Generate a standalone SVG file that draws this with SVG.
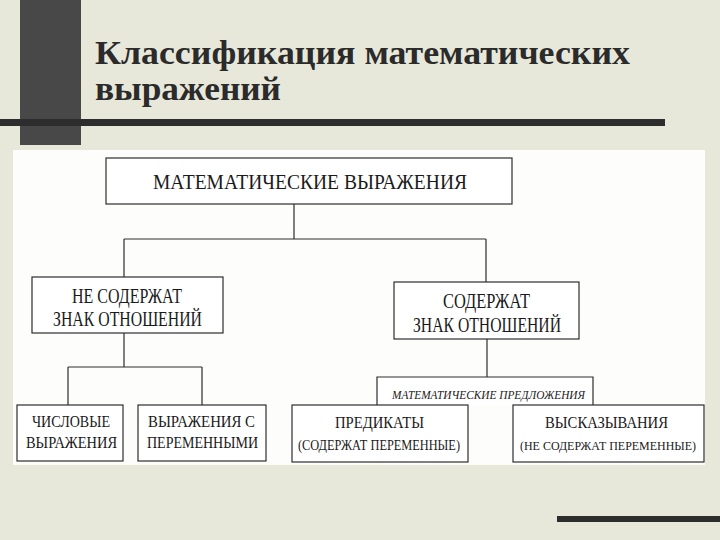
<svg xmlns="http://www.w3.org/2000/svg" width="720" height="540" viewBox="0 0 720 540">
<style>
  .title{font-family:"Liberation Serif","Times New Roman",serif;font-weight:bold;font-size:34px;fill:#2b2b2b}
  .box{fill:#ffffff;stroke:#2e2e2e;stroke-width:1.2}
  .t{font-family:"Liberation Serif","Times New Roman",serif;fill:#1a1a1a;text-anchor:start}
  .big{font-size:22px}
  .mid{font-size:22px}
  .sm{font-size:16px}
  .xs{font-size:14.5px}
  .xxs{font-size:13px}
  .it{font-size:12px;font-style:italic}
  .conn{fill:none;stroke:#2e2e2e;stroke-width:1.2}
</style>
<rect x="0" y="0" width="720" height="540" fill="#e8e8da"/>
<g id="decor">
  <rect x="20" y="0" width="61" height="145" fill="#484848"/>
  <rect x="0" y="119" width="665" height="7" fill="#2d2d2d"/>
  <rect x="557" y="516" width="163" height="6" fill="#2d2d2d"/>
</g>
<g id="title">
  <text class="title" x="95" y="64" textLength="535" lengthAdjust="spacingAndGlyphs">Классификация математических</text>
  <text class="title" x="95" y="100" textLength="186" lengthAdjust="spacingAndGlyphs">выражений</text>
</g>
<rect x="13" y="150" width="692" height="315" fill="#fdfdfb"/>
<g id="connectors">
  <path class="conn" d="M294 204 V239 M124 239 H486 M124 239 V277 M486 239 V282"/>
  <path class="conn" d="M124 333 V367 M68 367 H202 M68 367 V405 M202 367 V405"/>
  <path class="conn" d="M487 339 V377"/>
</g>
<g id="n-root">
  <rect class="box" x="106" y="158" width="406" height="46"/>
  <text class="t big" x="153" y="189" textLength="314" lengthAdjust="spacingAndGlyphs">МАТЕМАТИЧЕСКИЕ ВЫРАЖЕНИЯ</text>
</g>
<g id="n-nosign">
  <rect class="box" x="32" y="277" width="191" height="56"/>
  <text class="t mid" x="72" y="303" textLength="110" lengthAdjust="spacingAndGlyphs">НЕ СОДЕРЖАТ</text>
  <text class="t mid" x="53" y="326" textLength="149" lengthAdjust="spacingAndGlyphs">ЗНАК ОТНОШЕНИЙ</text>
</g>
<g id="n-sign">
  <rect class="box" x="394" y="282" width="185" height="57"/>
  <text class="t mid" x="443" y="308" textLength="87" lengthAdjust="spacingAndGlyphs">СОДЕРЖАТ</text>
  <text class="t mid" x="413" y="332" textLength="148" lengthAdjust="spacingAndGlyphs">ЗНАК ОТНОШЕНИЙ</text>
</g>
<g id="n-sentences">
  <path d="M377 405 V377 H593 V405" fill="#ffffff" stroke="#2e2e2e" stroke-width="1.2"/>
  <text class="t it" x="392" y="399" textLength="193" lengthAdjust="spacingAndGlyphs">МАТЕМАТИЧЕСКИЕ ПРЕДЛОЖЕНИЯ</text>
</g>
<g id="n-numeric">
  <rect class="box" x="17" y="405" width="106" height="56"/>
  <text class="t sm" x="32" y="427" textLength="78" lengthAdjust="spacingAndGlyphs">ЧИСЛОВЫЕ</text>
  <text class="t sm" x="26" y="448" textLength="91" lengthAdjust="spacingAndGlyphs">ВЫРАЖЕНИЯ</text>
</g>
<g id="n-variable">
  <rect class="box" x="138" y="405" width="128" height="56"/>
  <text class="t sm" x="148" y="427" textLength="107" lengthAdjust="spacingAndGlyphs">ВЫРАЖЕНИЯ С</text>
  <text class="t sm" x="147" y="448" textLength="111" lengthAdjust="spacingAndGlyphs">ПЕРЕМЕННЫМИ</text>
</g>
<g id="n-predicates">
  <rect class="box" x="292" y="405" width="176" height="57"/>
  <text class="t sm" x="335" y="428" textLength="89" lengthAdjust="spacingAndGlyphs">ПРЕДИКАТЫ</text>
  <text class="t xs" x="298" y="450" textLength="162" lengthAdjust="spacingAndGlyphs">(СОДЕРЖАТ ПЕРЕМЕННЫЕ)</text>
</g>
<g id="n-statements">
  <rect class="box" x="513" y="405" width="191" height="57"/>
  <text class="t sm" x="545" y="428" textLength="123" lengthAdjust="spacingAndGlyphs">ВЫСКАЗЫВАНИЯ</text>
  <text class="t xxs" x="520" y="450" textLength="176" lengthAdjust="spacingAndGlyphs">(НЕ СОДЕРЖАТ ПЕРЕМЕННЫЕ)</text>
</g>
</svg>
